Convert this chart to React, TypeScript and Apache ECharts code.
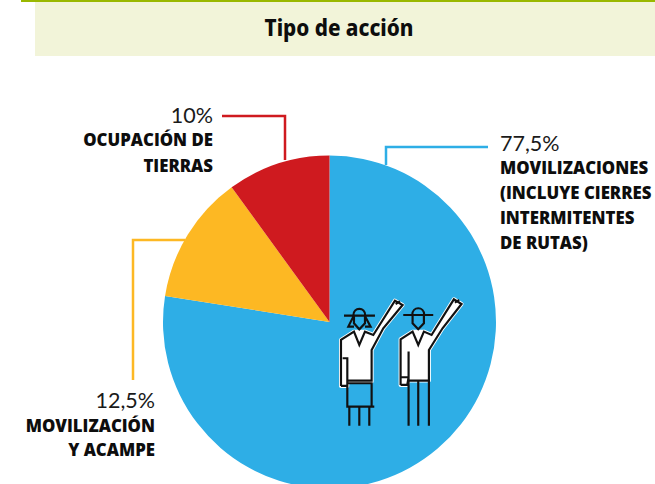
import React, { useEffect, useRef } from "react";
import * as echarts from "echarts";

const titleText = "Tipo de acción";
const categories = ["Movilizaciones", "Movilización y acampe", "Ocupación de tierras"];
const seriesValues = [77.5, 12.5, 10];
const seriesColors = ["#2eaee6", "#fdb823", "#cf1a1f"];
const percentLabels = ["77,5%", "12,5%", "10%"];
const blueLines = ["MOVILIZACIONES", "(INCLUYE CIERRES", "INTERMITENTES", "DE RUTAS)"];
const yellowLines = ["MOVILIZACIÓN", "Y ACAMPE"];
const redLines = ["OCUPACIÓN DE", "TIERRAS"];

const BODY_FONT = '"Open Sans", "Noto Sans", sans-serif';
const PCT_FONT = 'Lato, "Open Sans", sans-serif';

const womanBody = "M33 150 L72 125 L105 125 L130 135 L195 32 L218 45 L160 115 L125 180 L125 275 L52 275 L52 288 L33 288 Z";
const womanLines =
  "M42 77 L135 77 M70 77 C70 50 106 50 106 77 M72 77 L72 100 L88 118 L105 100 L105 77 M70 80 L55 110 L72 110 M106 80 L122 110 L105 110 " +
  "M33 288 L33 150 L72 125 L88 165 L105 125 L130 135 L195 32 L218 45 L160 115 L125 180 L125 272 L52 272 M38 205 L52 205 L52 288 L33 288 " +
  "M197 42 L210 34 M52 280 L125 280 L125 350 L52 350 Z M50 350 L133 350 M58 350 L58 408 M88 350 L88 408 M118 350 L118 408";
const manBody = "M212 148 L248 125 L282 125 L305 135 L372 28 L395 42 L338 115 L297 180 L297 272 L236 272 L232 285 L212 285 Z";
const manLines =
  "M220 75 L310 75 M247 75 C247 48 283 48 283 75 M248 75 L248 100 L265 118 L282 100 L282 75 " +
  "M212 285 L212 148 L248 125 L265 165 L282 125 L305 135 L372 28 L395 42 L338 115 L297 180 L297 408 M236 185 L236 408 M265 272 L265 408 " +
  "M212 262 L236 262 M212 285 L232 285 L236 262 M236 272 L297 272 M375 38 L388 30";

echarts.graphic.registerShape("womanBody", echarts.graphic.extendPath(womanBody, {}));
echarts.graphic.registerShape("womanLines", echarts.graphic.extendPath(womanLines, {}));
echarts.graphic.registerShape("manBody", echarts.graphic.extendPath(manBody, {}));
echarts.graphic.registerShape("manLines", echarts.graphic.extendPath(manLines, {}));

const lineText = (text: string, x: number, y: number, align: string, bold: boolean) => ({
  type: "text",
  x,
  y,
  silent: true,
  style: {
    text,
    align,
    verticalAlign: "middle",
    fill: bold ? "#0d0d0d" : "#1a1a1a",
    font: bold ? `800 16.8px ${BODY_FONT}` : `400 21.5px ${PCT_FONT}`,
  },
});

const leader = (points: number[][], color: string) => ({
  type: "polyline",
  silent: true,
  z: 1,
  shape: { points },
  style: { stroke: color, lineWidth: 2.5, fill: "none" },
});

const figure = (name: string, fill: boolean) => ({
  type: name,
  x: 330,
  y: 290,
  scaleX: 1 / 3,
  scaleY: 1 / 3,
  silent: true,
  z: 10,
  style: fill
    ? { fill: "#ffffff", stroke: "#ffffff", lineWidth: 12, lineJoin: "round" }
    : { fill: "none", stroke: "#111111", lineWidth: 6.5, lineJoin: "miter" },
});

export default function App() {
  const ref = useRef<HTMLDivElement>(null);
  useEffect(() => {
    const chart = echarts.init(ref.current!, null, { renderer: "svg" });
    chart.setOption({
      animation: false,
      backgroundColor: "#ffffff",
      series: [
        {
          type: "pie",
          center: [329.5, 322],
          radius: [0, 166.5],
          startAngle: 90,
          clockwise: true,
          silent: true,
          label: { show: false },
          labelLine: { show: false },
          data: categories.map((name, i) => ({
            name,
            value: seriesValues[i],
            itemStyle: { color: seriesColors[i] },
          })),
        },
      ],
      graphic: [
        { type: "rect", silent: true, shape: { x: 35, y: 0, width: 620, height: 56 }, style: { fill: "#f2f4d9" } },
        { type: "rect", silent: true, shape: { x: 21, y: 0, width: 634, height: 2 }, style: { fill: "#9ab800" } },
        {
          type: "text",
          x: 339,
          y: 27,
          scaleX: 0.9,
          silent: true,
          style: { text: titleText, align: "center", verticalAlign: "middle", fill: "#0d0d0d", font: '800 23px "Noto Sans", sans-serif' },
        },
        leader([[222, 116], [285, 116], [285, 160]], seriesColors[2]),
        leader([[488, 147], [386, 147], [386, 165]], seriesColors[0]),
        leader([[185, 240], [133, 240], [133, 380]], seriesColors[1]),
        lineText(percentLabels[2], 213, 115, "right", false),
        ...redLines.map((t, i) => lineText(t, 213, 139 + i * 26, "right", true)),
        lineText(percentLabels[0], 500, 143, "left", false),
        ...blueLines.map((t, i) => lineText(t, 500, 167 + i * 25, "left", true)),
        lineText(percentLabels[1], 155, 400, "right", false),
        ...yellowLines.map((t, i) => lineText(t, 155, 425 + i * 24, "right", true)),
        figure("womanBody", true),
        figure("manBody", true),
        figure("womanLines", false),
        figure("manLines", false),
      ],
    });
    return () => chart.dispose();
  }, []);
  return <div ref={ref} style={{ position: "absolute", left: 0, top: 0, width: 655, height: 484 }} />;
}
